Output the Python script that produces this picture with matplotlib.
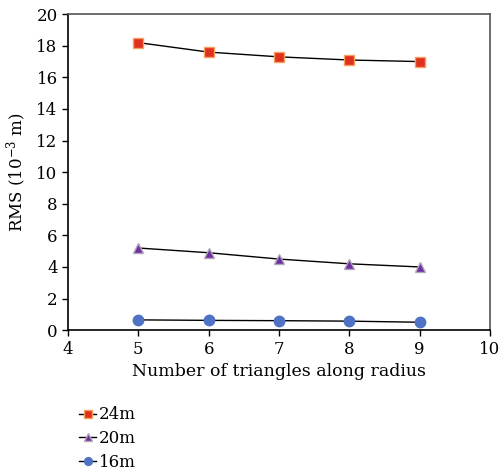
import matplotlib
matplotlib.use("Agg")
import matplotlib.pyplot as plt

plt.rcParams['font.family'] = ['DejaVu Serif']
plt.rcParams['mathtext.fontset'] = 'dejavuserif'

x = [5, 6, 7, 8, 9]
s24 = [18.2, 17.6, 17.3, 17.1, 17.0]
s20 = [5.2, 4.9, 4.5, 4.2, 4.0]
s16 = [0.65, 0.62, 0.60, 0.57, 0.50]
labels = ['24m', '20m', '16m']

fig = plt.figure(figsize=(5.0, 4.73), dpi=100)
ax = fig.add_axes([0.136, 0.302, 0.844, 0.668])

ax.plot(x, s24, color='black', lw=1.0, marker='s', ms=7, mfc='#E0301E', mec='#F5A060', mew=1.0, label=labels[0])
ax.plot(x, s20, color='black', lw=1.0, marker='^', ms=7, mfc='#7030A0', mec='#B0A8B8', mew=1.0, label=labels[1])
ax.plot(x, s16, color='black', lw=1.0, marker='o', ms=7.5, mfc='#4F72C4', mec='#4F72C4', mew=1.0, label=labels[2])

ax.set_xlim(4, 10)
ax.set_ylim(0, 20)
ax.set_xticks(range(4, 11))
ax.set_yticks(range(0, 21, 2))
ax.tick_params(labelsize=12, direction='out', length=4, width=1, color='black')
ax.set_xlabel('Number of triangles along radius', fontsize=12.5, labelpad=4)
ax.set_ylabel('RMS (10$^{-3}$ m)', fontsize=12, labelpad=5)
for side in ['left', 'bottom']:
    ax.spines[side].set_color('black')
    ax.spines[side].set_linewidth(1.2)
for side in ['top', 'right']:
    ax.spines[side].set_color('#555555')
    ax.spines[side].set_linewidth(1.2)

fig.legend(loc='upper left', bbox_to_anchor=(0.145, 0.155), frameon=False, fontsize=12,
           handlelength=1.0, handletextpad=0.2, labelspacing=0.4, borderaxespad=0,
           markerscale=0.75)

fig.savefig('out.png', dpi=100)
